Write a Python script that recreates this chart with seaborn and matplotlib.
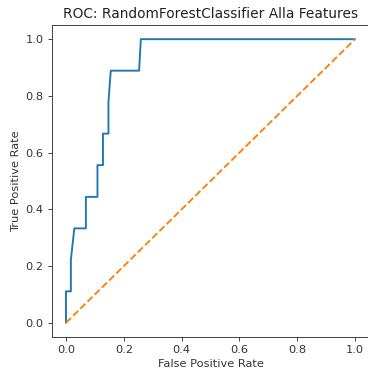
import matplotlib
matplotlib.use("Agg")
import matplotlib.pyplot as plt
import seaborn as sns
import pandas as pd

fpr = [0.0, 0.0, 0.017, 0.017, 0.029, 0.069, 0.069, 0.109, 0.109, 0.128, 0.128,
       0.147, 0.147, 0.155, 0.253, 0.259, 1.0]
tpr = [0.0, 0.111, 0.111, 0.222, 0.333, 0.333, 0.444, 0.444, 0.556, 0.556, 0.667,
       0.667, 0.778, 0.889, 0.889, 1.0, 1.0]
chance_x = [0.0, 1.0]
chance_y = [0.0, 1.0]

sns.set_style("ticks")
plt.rcParams["font.family"] = ["DejaVu Sans"]

fig = plt.figure(figsize=(368 / 72, 376 / 72), dpi=72)
ax = fig.add_axes([51.5 / 368, 39 / 376, 318 / 368, 312 / 376])

roc = pd.DataFrame({"fpr": fpr, "tpr": tpr})
sns.lineplot(data=roc, x="fpr", y="tpr", estimator=None, sort=False,
             color="#1f77b4", linewidth=1.9, ax=ax)
sns.lineplot(x=chance_x, y=chance_y, estimator=None, sort=False,
             color="#ff7f0e", linestyle="--", linewidth=1.9, ax=ax)

ax.set_xlim(-0.05, 1.05)
ax.set_ylim(-0.05, 1.05)
ax.set_xticks([0.0, 0.2, 0.4, 0.6, 0.8, 1.0])
ax.set_yticks([0.0, 0.2, 0.4, 0.6, 0.8, 1.0])
ax.tick_params(labelsize=11.4, length=4, width=0.9, pad=4,
               color="#333333", labelcolor="#333333")
for s in ax.spines.values():
    s.set_color("#333333")
    s.set_linewidth(0.9)
ax.set_xlabel("False Positive Rate", fontsize=11.4, color="#333333", labelpad=4)
ax.set_ylabel("True Positive Rate", fontsize=11.4, color="#333333", labelpad=4)
ax.set_title("ROC: RandomForestClassifier Alla Features", fontsize=13.7,
             color="#222222", pad=7)

fig.savefig("out.png", dpi=72)
